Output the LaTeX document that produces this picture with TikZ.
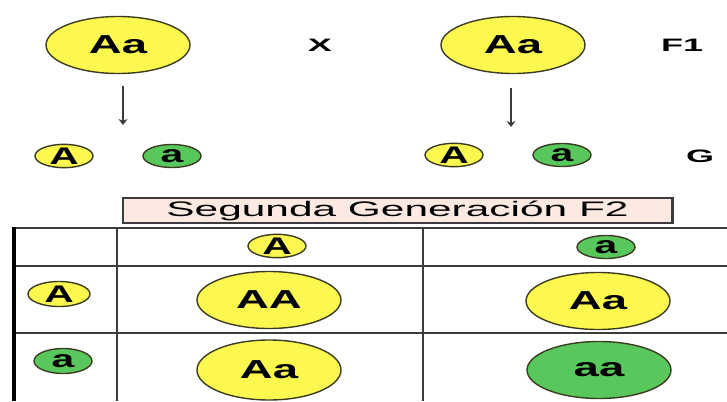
\documentclass[tikz,border=0pt]{standalone}
\usepackage{fontspec}
\setmainfont{Liberation Sans}
\usepackage{graphicx}
\definecolor{yel}{RGB}{252,248,80}
\definecolor{grn}{RGB}{88,200,92}
\definecolor{edge}{RGB}{60,60,35}
\definecolor{titlefill}{RGB}{252,234,226}
\definecolor{gridc}{RGB}{60,60,60}
\newcommand\stretchtxt[2]{\scalebox{#1}[1]{#2}}
\tikzset{
  bigY/.style={ellipse, draw=edge, line width=1.4pt, fill=yel, minimum width=144pt, minimum height=57pt, inner sep=0pt,
    font=\fontsize{26}{26}\selectfont\bfseries},
  bigG/.style={bigY, fill=grn},
  smY/.style={ellipse, draw=edge, line width=1.4pt, fill=yel, minimum width=58pt, minimum height=23pt, inner sep=0pt,
    font=\fontsize{24}{24}\selectfont\bfseries},
  smG/.style={smY, fill=grn},
  lbl/.style={inner sep=0pt, font=\fontsize{18}{18}\selectfont\bfseries},
  gridl/.style={draw=gridc, line width=1.6pt},
  arr/.style={draw=gridc, line width=1.6pt, -{Stealth[length=6pt,width=9pt]}}
}
\usetikzlibrary{shapes.geometric,arrows.meta}
\begin{document}
\begin{tikzpicture}[x=1pt,y=-1pt]
\useasboundingbox (0,0) rectangle (727,401);
% top parents
\node[bigY] (p1) at (118,45) {\stretchtxt{1.75}{Aa}};
\node[lbl] (x) at (320,45) {\stretchtxt{2.0}{X}};
\node[bigY] (p2) at (513,45) {\stretchtxt{1.75}{Aa}};
\node[lbl] (f1) at (682,45) {\stretchtxt{2.0}{F1}};
% arrows
\coordinate (a1s) at (123,86);
\coordinate (a1e) at (123,125);
\coordinate (a2s) at (511,88);
\coordinate (a2e) at (511,127);
\draw[arr] (a1s) -- (a1e);
\draw[arr] (a2s) -- (a2e);
% gametes
\node[smY] (g1) at (64,156) {\stretchtxt{1.7}{A}};
\node[smG] (g2) at (172,156) {\stretchtxt{1.7}{a}};
\node[smY] (g3) at (454,155) {\stretchtxt{1.7}{A}};
\node[smG] (g4) at (562,155) {\stretchtxt{1.7}{a}};
\node[lbl] (g) at (700,156) {\stretchtxt{2.0}{G}};
% title box
\node[draw=gridc, line width=1.3pt, fill=titlefill, minimum width=549pt, minimum height=25pt, inner sep=0pt,
      font=\fontsize{21}{21}\selectfont] (title) at (397.5,210.5) {\stretchtxt{2.02}{Segunda Generación F2}};
\draw[draw=gridc, line width=2.4pt] (title.north east) -- (title.south east);
% table grid
\coordinate (tl) at (14,228);
\coordinate (tr) at (727,228);
\coordinate (r1l) at (14,266);
\coordinate (r1r) at (727,266);
\coordinate (r2l) at (14,333);
\coordinate (r2r) at (727,333);
\coordinate (bl) at (14,401);
\coordinate (v1t) at (117,228);
\coordinate (v1b) at (117,401);
\coordinate (v2t) at (423,228);
\coordinate (v2b) at (423,401);
\draw[gridl] (tl) -- (tr);
\draw[gridl] (r1l) -- (r1r);
\draw[gridl] (r2l) -- (r2r);
\draw[gridl] (v1t) -- (v1b);
\draw[gridl] (v2t) -- (v2b);
\draw[draw=black, line width=4.5pt] ([yshift=1pt]tl) -- (bl);
% header gametes
\node[smY] (h1) at (277,246) {\stretchtxt{1.7}{A}};
\node[smG] (h2) at (606,247) {\stretchtxt{1.7}{a}};
\node[smY, minimum width=62pt, minimum height=25pt] (s1) at (59,294) {\stretchtxt{1.7}{A}};
\node[smG, minimum width=58pt, minimum height=25pt] (s2) at (63,361) {\stretchtxt{1.7}{a}};
% offspring
\node[bigY] (o11) at (269,300) {\stretchtxt{1.75}{AA}};
\node[bigY] (o12) at (598,301) {\stretchtxt{1.75}{Aa}};
\node[bigY, minimum height=60pt] (o21) at (269,370) {\stretchtxt{1.75}{Aa}};
\node[bigG] (o22) at (599,370) {\stretchtxt{1.75}{aa}};
\end{tikzpicture}
\end{document}
